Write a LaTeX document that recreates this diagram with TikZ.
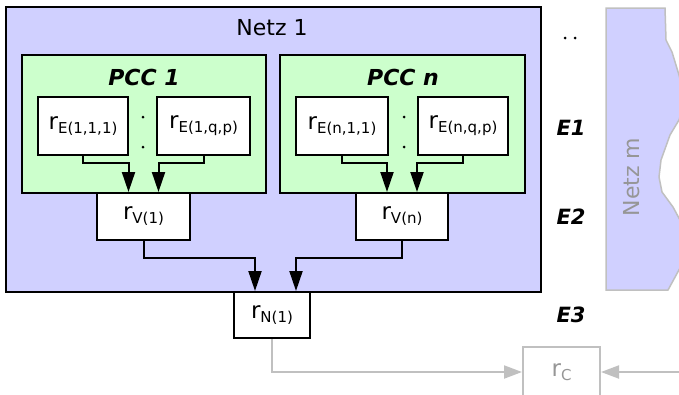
\documentclass[tikz,border=0pt]{standalone}
\usepackage{fontspec}
\setmainfont{DejaVu Sans}
\usetikzlibrary{arrows.meta}

\definecolor{netzblau}{RGB}{208,208,255}
\definecolor{pccgruen}{RGB}{204,255,204}
\definecolor{hellgrau}{RGB}{192,192,192}
\definecolor{textgrau}{RGB}{150,150,150}

\newcommand{\rsub}[1]{r{\fontsize{15}{15}\selectfont\raisebox{-4pt}{#1}}}

\tikzset{rbox/.style = {shape = rectangle,
                        draw = black,
                        fill = white,
                        line width = 2pt,
                        inner sep = 0pt,
                        font = \fontsize{23}{23}\selectfont},
         netz/.style = {shape = rectangle,
                        draw = black,
                        fill = netzblau,
                        line width = 2pt,
                        inner sep = 0pt},
         pcc/.style = {shape = rectangle,
                        draw = black,
                        fill = pccgruen,
                        line width = 2pt,
                        inner sep = 0pt},
         titel/.style = {inner sep = 0pt,
                        font = \fontsize{22}{22}\selectfont},
         ebene/.style = {inner sep = 0pt,
                        font = \fontsize{21}{21}\bfseries\itshape},
         punkt/.style = {shape = circle,
                        fill = black,
                        inner sep = 0pt,
                        minimum size = 3pt},
         pfeil/.style = {line width = 2pt,
                        -{Triangle[length=20pt, width=13pt]}},
         grau/.style = {draw = hellgrau,
                        line width = 2pt,
                        -{Triangle[length=18pt, width=13pt]}}}

\begin{document}
\begin{tikzpicture}[x=1pt, y=-1pt]
		\useasboundingbox (0,0) rectangle (679,394);
		% Netz m, nur angedeutet
		\draw[draw = hellgrau, fill = netzblau, line width = 1.5pt]
			(606,8) -- (665,8) -- (666,40) -- (672,52) -- (679,75) -- (685,100)
			-- (679,120) -- (670,135) -- (661,160) -- (659,177) -- (662,192)
			-- (673,207) -- (680,220) -- (685,245) -- (680,268) -- (668,290)
			-- (606,290) -- cycle;
		\node[titel, text = textgrau, rotate = 90] (netzm) at (632,177) {Netz m};
		\node[punkt] (m1) at (565,38) {};
		\node[punkt] (m2) at (575,38) {};

		% Netz 1
		\node[netz, minimum width = 535pt, minimum height = 285pt] (netz1) at (273.5,149.5) {};
		\node[titel] (t1) at (272,28) {Netz 1};

		% PCC 1 und PCC n
		\node[pcc, minimum width = 244pt, minimum height = 138pt] (pcc1) at (144,124) {};
		\node[pcc, minimum width = 245pt, minimum height = 138pt] (pccn) at (402.5,124) {};
		\node[titel, font = \fontsize{22}{22}\bfseries\itshape] (p1) at (144,77) {PCC 1};
		\node[titel, font = \fontsize{22}{22}\bfseries\itshape] (pn) at (403,77) {PCC n};

		% E1
		\node[rbox, minimum width = 90pt, minimum height = 58pt] (e11) at (83,126) {\rsub{E(1,1,1)}};
		\node[rbox, minimum width = 93pt, minimum height = 58pt] (e1q) at (203.5,126) {\rsub{E(1,q,p)}};
		\node[rbox, minimum width = 92pt, minimum height = 58pt] (en1) at (342,126) {\rsub{E(n,1,1)}};
		\node[rbox, minimum width = 90pt, minimum height = 58pt] (enq) at (463,126) {\rsub{E(n,q,p)}};
		\node[punkt] (d1) at (143,117) {};
		\node[punkt] (d2) at (143,147) {};
		\node[punkt] (d3) at (404,117) {};
		\node[punkt] (d4) at (404,147) {};

		% E2
		\node[rbox, minimum width = 93pt, minimum height = 47pt] (v1) at (143.5,216.5) {\rsub{V(1)}};
		\node[rbox, minimum width = 92pt, minimum height = 47pt] (vn) at (402,216.5) {\rsub{V(n)}};

		% E3
		\node[rbox, minimum width = 76pt, minimum height = 46pt] (n1) at (272,315) {\rsub{N(1)}};

		% zentral
		\node[rbox, draw = hellgrau, text = textgrau, minimum width = 77pt, minimum height = 50pt] (rc) at (561.5,372) {\rsub{C}};
		\coordinate (rechts) at (690,372);

		\node[ebene] (E1) at (571,128) {E1};
		\node[ebene] (E2) at (571,217) {E2};
		\node[ebene] (E3) at (571,315) {E3};

		\draw[pfeil] (e11.south) -- ++(0,7) -| ([xshift=-15pt]v1.north);
		\draw[pfeil] (e1q.south) -- ++(0,7) -| ([xshift=15pt]v1.north);
		\draw[pfeil] (en1.south) -- ++(0,7) -| ([xshift=-15pt]vn.north);
		\draw[pfeil] (enq.south) -- ++(0,7) -| ([xshift=15pt]vn.north);
		\draw[pfeil] (v1.south) -- ++(0,17) -| ([xshift=-17pt]n1.north);
		\draw[pfeil] (vn.south) -- ++(0,17) -| ([xshift=24pt]n1.north);
		\draw[grau] (n1.south) |- (rc.west);
		\draw[grau] (rechts) -- (rc.east);
	\end{tikzpicture}
\end{document}
